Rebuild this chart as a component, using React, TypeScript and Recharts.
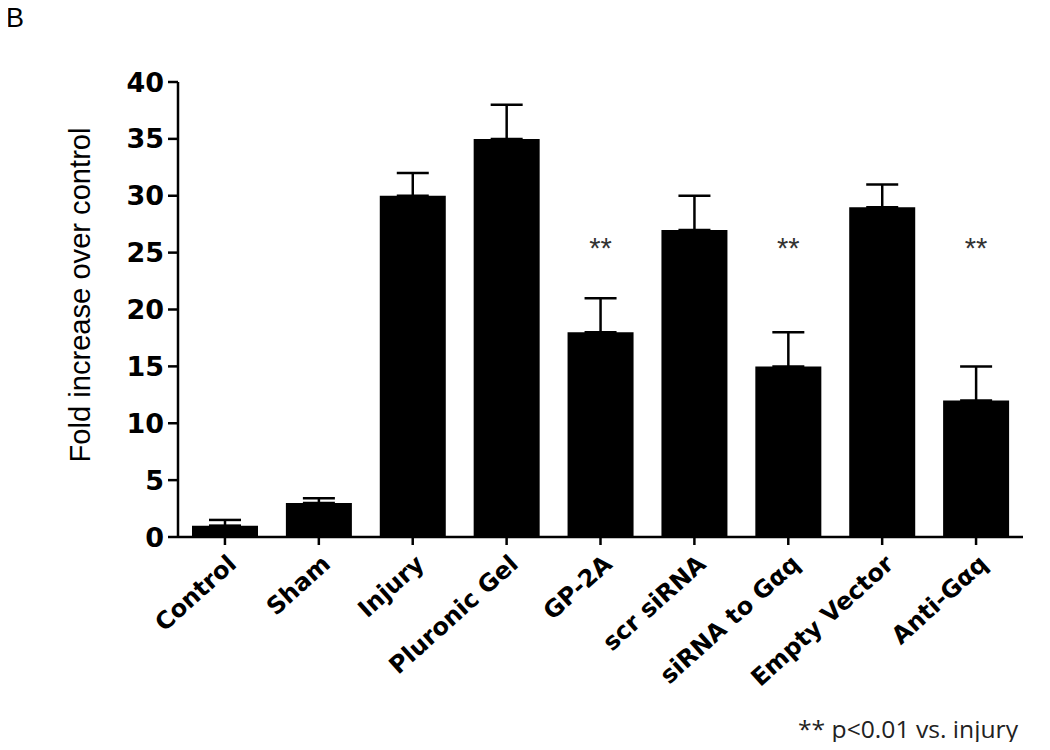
import { Bar, ComposedChart, ErrorBar, Scatter, XAxis, YAxis } from 'recharts';

const groups = ['Control', 'Sham', 'Injury', 'Pluronic Gel', 'GP-2A', 'scr siRNA', 'siRNA to Gαq', 'Empty Vector', 'Anti-Gαq'];
const foldIncrease = [1, 3, 30, 35, 18, 27, 15, 29, 12];
const semUpper = [0.5, 0.4, 2, 3, 3, 3, 3, 2, 3];
const significant = [false, false, false, false, true, false, true, false, true];
const yTicks = [0, 5, 10, 15, 20, 25, 30, 35, 40];

// height at which the ** marks sit
const STAR_LEVEL = 25.8;

const chartData = groups.map((name, i) => ({
  name,
  value: foldIncrease[i],
  err: [0, semUpper[i]],
  star: significant[i] ? STAR_LEVEL : null,
}));

const CategoryTick = (props: any) => {
  const { x, y, payload } = props;
  const ax = x + 13;
  const ay = y + 19;
  return (
    <text
      x={ax}
      y={ay}
      transform={`rotate(-42, ${ax}, ${ay})`}
      textAnchor="end"
      fontFamily="DejaVu Sans"
      fontWeight="bold"
      fontSize={24}
      fill="#000"
    >
      {payload.value}
    </text>
  );
};

const StarShape = (props: any) => {
  const { cx, cy } = props;
  if (cx == null || cy == null) return null;
  return (
    <text x={cx} y={cy + 14} textAnchor="middle" fontFamily="Liberation Sans" fontSize={29} fill="#333">
      **
    </text>
  );
};

export default function App() {
  return (
    <div style={{ position: 'relative', width: 1050, height: 750, margin: -8, background: '#fff' }}>
      <ComposedChart width={1050} height={750} data={chartData} margin={{ top: 82, right: 27, bottom: 13, left: 118 }}>
        <XAxis
          dataKey="name"
          interval={0}
          height={200}
          tick={<CategoryTick />}
          tickSize={8}
          axisLine={{ stroke: '#000', strokeWidth: 2.5 }}
          tickLine={{ stroke: '#000', strokeWidth: 2.5 }}
        />
        <YAxis
          domain={[0, 40]}
          ticks={yTicks}
          allowDataOverflow
          width={60}
          tickSize={10}
          tickMargin={4}
          axisLine={{ stroke: '#000', strokeWidth: 2.5 }}
          tickLine={{ stroke: '#000', strokeWidth: 2.5 }}
          tick={{ fill: '#000', fontFamily: 'DejaVu Sans', fontWeight: 'bold', fontSize: 27 }}
        />
        <Bar dataKey="value" fill="#000" barSize={66} isAnimationActive={false}>
          <ErrorBar dataKey="err" direction="y" width={16} stroke="#000" strokeWidth={2.5} />
        </Bar>
        <Scatter dataKey="star" shape={<StarShape />} isAnimationActive={false} />
      </ComposedChart>
      <svg width={1050} height={750} style={{ position: 'absolute', left: 0, top: 0, pointerEvents: 'none' }}>
        <text x={6} y={27} fontFamily="Liberation Sans" fontSize={27} fill="#000">
          B
        </text>
        <text
          x={90}
          y={295}
          transform="rotate(-90, 90, 295)"
          textAnchor="middle"
          fontFamily="Liberation Sans"
          fontSize={29}
          textLength={335}
          lengthAdjust="spacingAndGlyphs"
          fill="#000"
        >
          Fold increase over control
        </text>
        <text x={798} y={738} fontFamily="Open Sans" fontSize={23} textLength={220} lengthAdjust="spacingAndGlyphs" fill="#222">
          ** p&lt;0.01 vs. injury
        </text>
      </svg>
    </div>
  );
}
